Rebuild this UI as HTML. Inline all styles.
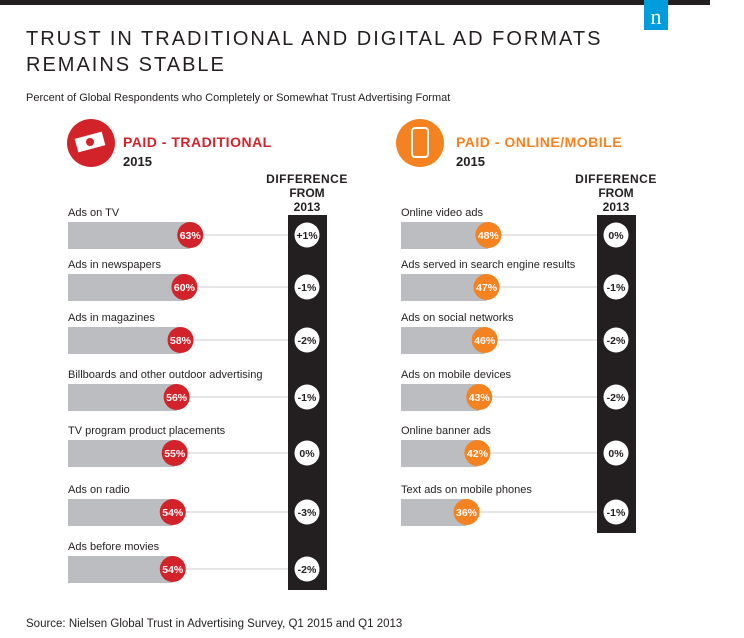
<!DOCTYPE html>
<html><head><meta charset="utf-8"><style>
body{margin:0;background:#fff;}
svg{display:block;font-family:"Liberation Sans",sans-serif;}
</style></head><body>
<svg id="c" width="744" height="638" viewBox="0 0 744 638">
<rect x="0" y="0" width="710" height="5" fill="#231f20"/>
<rect x="644" y="0" width="24" height="30" fill="#009ddc"/>
<text x="656" y="24" text-anchor="middle" fill="#fff" font-family="Liberation Serif,serif" font-size="22">n</text>
<text x="26" y="45" font-size="20" letter-spacing="2" fill="#231f20">TRUST IN TRADITIONAL AND DIGITAL AD FORMATS</text>
<text x="26" y="71" font-size="20" letter-spacing="2" fill="#231f20">REMAINS STABLE</text>
<text x="26" y="101" font-size="11" fill="#231f20">Percent of Global Respondents who Completely or Somewhat Trust Advertising Format</text>
<circle cx="91" cy="143" r="24" fill="#d2232a"/>
<rect x="76" y="135" width="28" height="14" fill="#fff" transform="rotate(-15 90 142)"/>
<circle cx="90" cy="142" r="4" fill="#d2232a"/>
<text x="123" y="147" font-size="14" font-weight="bold" fill="#d2232a" letter-spacing="0.5">PAID - TRADITIONAL</text>
<text x="123" y="166" font-size="13" font-weight="bold" fill="#231f20">2015</text>
<circle cx="420" cy="143" r="24" fill="#f58220"/>
<rect x="412" y="128" width="16" height="29" rx="3" fill="none" stroke="#fff" stroke-width="2"/>
<text x="456" y="147" font-size="14" font-weight="bold" fill="#f58220" letter-spacing="0.5">PAID - ONLINE/MOBILE</text>
<text x="456" y="166" font-size="13" font-weight="bold" fill="#231f20">2015</text>
<g id="g"></g>
<text x="26" y="627" font-size="11.5" fill="#231f20">Source: Nielsen Global Trust in Advertising Survey, Q1 2015 and Q1 2013</text>
</svg>
<script>
const leftCategories=["Ads on TV","Ads in newspapers","Ads in magazines","Billboards and other outdoor advertising","TV program product placements","Ads on radio","Ads before movies"];
const leftValues=[63,60,58,56,55,54,54];
const leftDiff=["+1%","-1%","-2%","-1%","0%","-3%","-2%"];
const rightCategories=["Online video ads","Ads served in search engine results","Ads on social networks","Ads on mobile devices","Online banner ads","Text ads on mobile phones"];
const rightValues=[48,47,46,43,42,36];
const rightDiff=["0%","-1%","-2%","-2%","0%","-1%"];
const rowY=[235,287,340,397,453,512,569];
const NS="http://www.w3.org/2000/svg";
const g=document.getElementById('g');
function mk(t,a,txt){const e=document.createElementNS(NS,t);for(const k in a)e.setAttribute(k,a[k]);if(txt!=null)e.textContent=txt;g.appendChild(e);return e;}
function panel(cats,vals,diffs,x0,k,colX,color,side){
  const colEnd=rowY[cats.length-1]+21;
  const col=mk('rect',{x:colX,y:215,width:39,height:colEnd-215,fill:'#231f20'});
  
  
  const h=mk('text',{x:colX+19,y:183,'text-anchor':'middle','font-size':12,'font-weight':'bold',fill:'#231f20','letter-spacing':'0.5'},'DIFFERENCE');
  
  
  mk('text',{x:colX+19,y:197,'text-anchor':'middle','font-size':12,'font-weight':'bold',fill:'#231f20'},'FROM');
  mk('text',{x:colX+19,y:211,'text-anchor':'middle','font-size':12,'font-weight':'bold',fill:'#231f20'},'2013');
  cats.forEach((c,i)=>{
    const y=rowY[i];const cx=x0+vals[i]*k;
    const lab=mk('text',{x:x0,y:y-19,'font-size':11,fill:'#231f20'},c);
    
    
    const ln=mk('line',{x1:cx,y1:y,x2:colX,y2:y,stroke:'#ddd','stroke-width':1.5});
    
    
    const b=mk('rect',{x:x0,y:y-13,width:cx-x0,height:27,fill:'#bcbdc0'});
    
    
    const ci=mk('circle',{cx:cx,cy:y,r:13,fill:color});
    
    
    const vt=mk('text',{x:cx,y:y+4,'text-anchor':'middle','font-size':10.5,'font-weight':'bold',fill:'#fff'},vals[i]+'%');
    
    
    const dc=mk('circle',{cx:colX+19,cy:y,r:12.5,fill:'#fff'});
    
    
    const dt=mk('text',{x:colX+19,y:y+4,'text-anchor':'middle','font-size':10.5,'font-weight':'bold',fill:'#231f20'},diffs[i]);
    
    
  });
}
panel(leftCategories,leftValues,leftDiff,68,1.94,288,'#d2232a','traditional');
panel(rightCategories,rightValues,rightDiff,401,1.82,597,'#f58220','online');
</script>
</body></html>
